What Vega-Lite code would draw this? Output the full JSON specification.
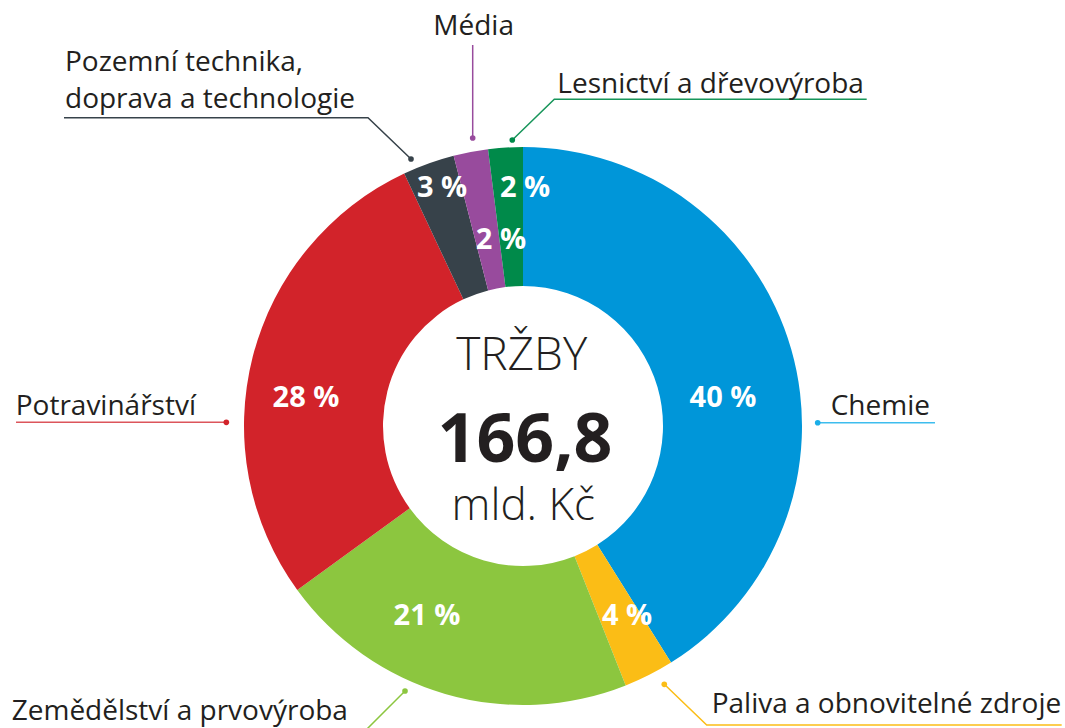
{
  "$schema": "https://vega.github.io/schema/vega-lite/v6.json",
  "width": 1065,
  "height": 728,
  "autosize": {"type": "none"},
  "padding": 0,
  "background": "white",
  "config": {"view": {"stroke": null}},
  "datasets": {
    "segments": [
      {"i": 1, "sector": "Chemie", "share": 41.1},
      {"i": 2, "sector": "Paliva a obnovitelné zdroje", "share": 2.9},
      {"i": 3, "sector": "Zemědělství a prvovýroba", "share": 21.0},
      {"i": 4, "sector": "Potravinářství", "share": 28.0},
      {"i": 5, "sector": "Pozemní technika, doprava a technologie", "share": 3.0},
      {"i": 6, "sector": "Média", "share": 2.0},
      {"i": 7, "sector": "Lesnictví a dřevovýroba", "share": 2.0}
    ],
    "leaders": [
      {"sector": "Chemie", "k": 0, "lx": 1.0563, "ly": 0.0118},
      {"sector": "Chemie", "k": 1, "lx": 1.4767, "ly": 0.0118},
      {"sector": "Paliva a obnovitelné zdroje", "k": 0, "lx": 0.5064, "ly": -0.9258},
      {"sector": "Paliva a obnovitelné zdroje", "k": 1, "lx": 0.6584, "ly": -1.0717},
      {"sector": "Paliva a obnovitelné zdroje", "k": 2, "lx": 1.9308, "ly": -1.0717},
      {"sector": "Zemědělství a prvovýroba", "k": 0, "lx": -0.4229, "ly": -0.9498},
      {"sector": "Zemědělství a prvovýroba", "k": 1, "lx": -0.5842, "ly": -1.1111},
      {"sector": "Potravinářství", "k": 0, "lx": -1.0634, "ly": 0.0133},
      {"sector": "Potravinářství", "k": 1, "lx": -1.8172, "ly": 0.0133},
      {"sector": "Pozemní technika, doprava a technologie", "k": 0, "lx": -0.4014, "ly": 0.957},
      {"sector": "Pozemní technika, doprava a technologie", "k": 1, "lx": -0.5556, "ly": 1.105},
      {"sector": "Pozemní technika, doprava a technologie", "k": 2, "lx": -1.6452, "ly": 1.105},
      {"sector": "Média", "k": 0, "lx": -0.1803, "ly": 1.0323},
      {"sector": "Média", "k": 1, "lx": -0.1803, "ly": 1.3656},
      {"sector": "Lesnictví a dřevovýroba", "k": 0, "lx": -0.0384, "ly": 1.0251},
      {"sector": "Lesnictví a dřevovýroba", "k": 1, "lx": 0.1122, "ly": 1.171},
      {"sector": "Lesnictví a dřevovýroba", "k": 2, "lx": 1.2319, "ly": 1.171}
    ],
    "labels": [
      {"text": "Chemie", "tx": 1.1029, "ty": 0.0394},
      {"text": "Paliva a obnovitelné zdroje", "tx": 0.6763, "ty": -1.0297},
      {"text": "Zemědělství a prvovýroba", "tx": -1.8326, "ty": -1.0538},
      {"text": "Potravinářství", "tx": -1.8183, "ty": 0.0394},
      {"text": "Pozemní technika,", "tx": -1.6416, "ty": 1.2724},
      {"text": "doprava a technologie", "tx": -1.6416, "ty": 1.1398},
      {"text": "Média", "tx": -0.3215, "ty": 1.4014},
      {"text": "Lesnictví a dřevovýroba", "tx": 0.1229, "ty": 1.1946}
    ],
    "pct": [
      {"text": "40 %", "tx": 0.7168, "ty": 0.0692},
      {"text": "4 %", "tx": 0.3728, "ty": -0.7133},
      {"text": "21 %", "tx": -0.3441, "ty": -0.7133},
      {"text": "28 %", "tx": -0.7778, "ty": 0.0692},
      {"text": "3 %", "tx": -0.2903, "ty": 0.8197},
      {"text": "2 %", "tx": -0.0789, "ty": 0.6333},
      {"text": "2 %", "tx": 0.0072, "ty": 0.8197}
    ],
    "c1": [{"text": "TRŽBY", "tx": -0.0047, "ty": 0.2007}],
    "c2": [{"text": "166,8", "tx": 0.0072, "ty": -0.128}],
    "c3": [{"text": "mld. Kč", "tx": 0.001, "ty": -0.3369}]
  },
  "layer": [
    {
      "data": {"name": "segments"},
      "mark": {"type": "arc", "outerRadius": 279, "innerRadius": 140},
      "encoding": {
        "theta": {"field": "share", "type": "quantitative", "stack": true},
        "order": {"field": "i", "type": "quantitative"},
        "color": {
          "field": "sector", "type": "nominal", "legend": null,
          "scale": {
            "domain": ["Chemie", "Paliva a obnovitelné zdroje", "Zemědělství a prvovýroba", "Potravinářství", "Pozemní technika, doprava a technologie", "Média", "Lesnictví a dřevovýroba"],
            "range": ["#0096d9", "#fbbd16", "#8cc63f", "#d2232a", "#37424a", "#984b9d", "#008a4a"]
          }
        },
        "x": {"datum": 0, "type": "quantitative", "scale": {"domain": [-1.8746, 1.9427], "nice": false, "zero": false}, "axis": null},
        "y": {"datum": 0, "type": "quantitative", "scale": {"domain": [-1.0824, 1.5269], "nice": false, "zero": false}, "axis": null}
      }
    },
    {
      "data": {"name": "leaders"},
      "mark": {"type": "line", "strokeWidth": 1.5},
      "encoding": {
        "x": {"field": "lx", "type": "quantitative"},
        "y": {"field": "ly", "type": "quantitative"},
        "detail": {"field": "sector", "type": "nominal"},
        "order": {"field": "k", "type": "quantitative"},
        "color": {
          "field": "sector", "type": "nominal", "legend": null,
          "scale": {
            "domain": ["Chemie", "Paliva a obnovitelné zdroje", "Zemědělství a prvovýroba", "Potravinářství", "Pozemní technika, doprava a technologie", "Média", "Lesnictví a dřevovýroba"],
            "range": ["#3dbdee", "#fbbd16", "#8cc63f", "#dc555b", "#37424a", "#984b9d", "#17955a"]
          }
        }
      }
    },
    {
      "data": {"name": "leaders"},
      "transform": [{"filter": "datum.k == 0"}],
      "mark": {"type": "point", "filled": true, "size": 32, "opacity": 1},
      "encoding": {
        "x": {"field": "lx", "type": "quantitative"},
        "y": {"field": "ly", "type": "quantitative"},
        "color": {
          "field": "sector", "type": "nominal", "legend": null,
          "scale": {
            "domain": ["Chemie", "Paliva a obnovitelné zdroje", "Zemědělství a prvovýroba", "Potravinářství", "Pozemní technika, doprava a technologie", "Média", "Lesnictví a dřevovýroba"],
            "range": ["#1aaee8", "#fbbd16", "#8cc63f", "#d2232a", "#37424a", "#984b9d", "#008a4a"]
          }
        }
      }
    },
    {
      "data": {"name": "labels"},
      "mark": {"type": "text", "align": "left", "baseline": "alphabetic", "font": "Open Sans", "fontSize": 28, "color": "#231f20"},
      "encoding": {
        "x": {"field": "tx", "type": "quantitative"},
        "y": {"field": "ty", "type": "quantitative"},
        "text": {"field": "text", "type": "nominal"}
      }
    },
    {
      "data": {"name": "pct"},
      "mark": {"type": "text", "align": "center", "baseline": "alphabetic", "font": "Open Sans", "fontSize": 29, "fontWeight": "bold", "color": "white"},
      "encoding": {
        "x": {"field": "tx", "type": "quantitative"},
        "y": {"field": "ty", "type": "quantitative"},
        "text": {"field": "text", "type": "nominal"}
      }
    },
    {
      "data": {"name": "c1"},
      "mark": {"type": "text", "align": "center", "baseline": "alphabetic", "font": "Open Sans", "fontSize": 46, "fontWeight": 300, "color": "#231f20"},
      "encoding": {
        "x": {"field": "tx", "type": "quantitative"},
        "y": {"field": "ty", "type": "quantitative"},
        "text": {"field": "text", "type": "nominal"}
      }
    },
    {
      "data": {"name": "c2"},
      "mark": {"type": "text", "align": "center", "baseline": "alphabetic", "font": "Open Sans", "fontSize": 68, "fontWeight": "bold", "color": "#231f20"},
      "encoding": {
        "x": {"field": "tx", "type": "quantitative"},
        "y": {"field": "ty", "type": "quantitative"},
        "text": {"field": "text", "type": "nominal"}
      }
    },
    {
      "data": {"name": "c3"},
      "mark": {"type": "text", "align": "center", "baseline": "alphabetic", "font": "Open Sans", "fontSize": 44, "fontWeight": 300, "color": "#231f20"},
      "encoding": {
        "x": {"field": "tx", "type": "quantitative"},
        "y": {"field": "ty", "type": "quantitative"},
        "text": {"field": "text", "type": "nominal"}
      }
    }
  ],
  "resolve": {"scale": {"color": "independent"}}
}
